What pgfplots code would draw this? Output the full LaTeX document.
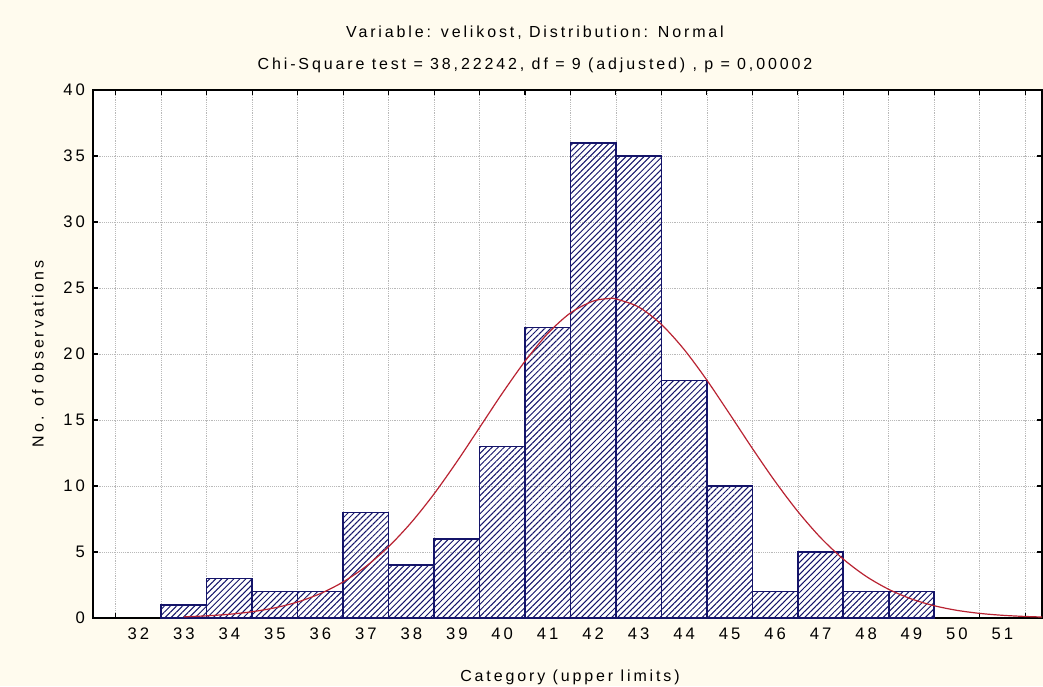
\documentclass[border=0pt]{standalone}
\usepackage{pgfplots}
\pgfplotsset{compat=1.18}
\usepackage{fontspec}
\setmainfont{Liberation Sans}[LetterSpace=18]
\usetikzlibrary{patterns.meta}
\definecolor{cream}{RGB}{255,251,238}
\definecolor{barnavy}{RGB}{20,20,105}
\definecolor{curvered}{RGB}{185,35,50}

\pgfplotstableread{
x y
33 1
34 3
35 2
36 2
37 8
38 4
39 6
40 13
41 22
42 36
43 35
44 18
45 10
46 2
47 5
48 2
49 2
}\bars

\pgfplotstableread{
x y
33.0 0.092
33.5 0.164
34.0 0.284
34.5 0.476
35.0 0.772
35.5 1.213
36.0 1.85
36.5 2.73
37.0 3.90
37.5 5.40
38.0 7.24
38.5 9.40
39.0 11.83
39.5 14.42
40.0 17.02
40.5 19.45
41.0 21.55
41.5 23.11
42.0 24.01
42.35 24.2
42.5 24.17
43.0 23.56
43.5 22.24
44.0 20.34
44.5 18.02
45.0 15.46
45.5 12.85
46.0 10.35
46.5 8.07
47.0 6.09
47.5 4.46
48.0 3.16
48.5 2.17
49.0 1.44
49.5 0.929
50.0 0.579
50.5 0.350
51.0 0.205
51.5 0.116
51.9 0.072
}\curve

\begin{document}
\begin{tikzpicture}[x=1pt,y=1pt]
\fill[cream] (-69.75,-51) rectangle (712.5,463.5);
\begin{axis}[
  at={(0,0)}, anchor=south west,
  scale only axis, width=711.75pt, height=396pt,
  xmin=31, xmax=51.87, ymin=0, ymax=40,
  axis background/.style={fill=white},
  xtick={32,...,51},
  major x tick style={draw=none},
  minor xtick={31.5,32.5,...,51.5},
  ytick={0,5,...,40},
  xminorgrids=true, ymajorgrids=true, xmajorgrids=false,
  minor grid style={gray!55, densely dotted},
  major grid style={gray!55, densely dotted},
  tick align=inside,
  major tick length=4pt, minor tick length=4pt,
  tick style={black, line width=0.8pt},
  axis line style={black, line width=1.2pt},
  ticklabel style={font=\fontsize{12.5}{14}\selectfont, text=black},
  xticklabel style={yshift=-4pt},
  yticklabel style={xshift=-2.5pt},
  /pgf/number format/assume math mode=true,
  clip=true,
]
\addplot[ybar, bar width=1, draw=barnavy, line width=1.2pt,
  pattern={Lines[angle=45, distance=3.2pt, line width=0.75pt]}, pattern color=barnavy]
  table[x=x,y=y] {\bars};
\addplot[curvered, line width=0.9pt, smooth, no marks] table[x=x,y=y] {\curve};
\end{axis}
\node[font=\fontsize{12}{14}\selectfont, text=black] at (331.5,438.75) {Variable: velikost, Distribution: Normal};
\node[font=\fontsize{12}{14}\selectfont, text=black] at (331.5,414.75) {Chi-Square test = 38,22242, df = 9 (adjusted) , p = 0,00002};
\node[font=\fontsize{12}{14}\selectfont, text=black] at (357.75,-44.25) {Category (upper limits)};
\node[font=\fontsize{12}{14}\selectfont, text=black, rotate=90] at (-41.25,198) {No. of observations};
\pgfresetboundingbox
\path (-69.75,-51) rectangle (712.5,463.5);
\end{tikzpicture}
\end{document}
